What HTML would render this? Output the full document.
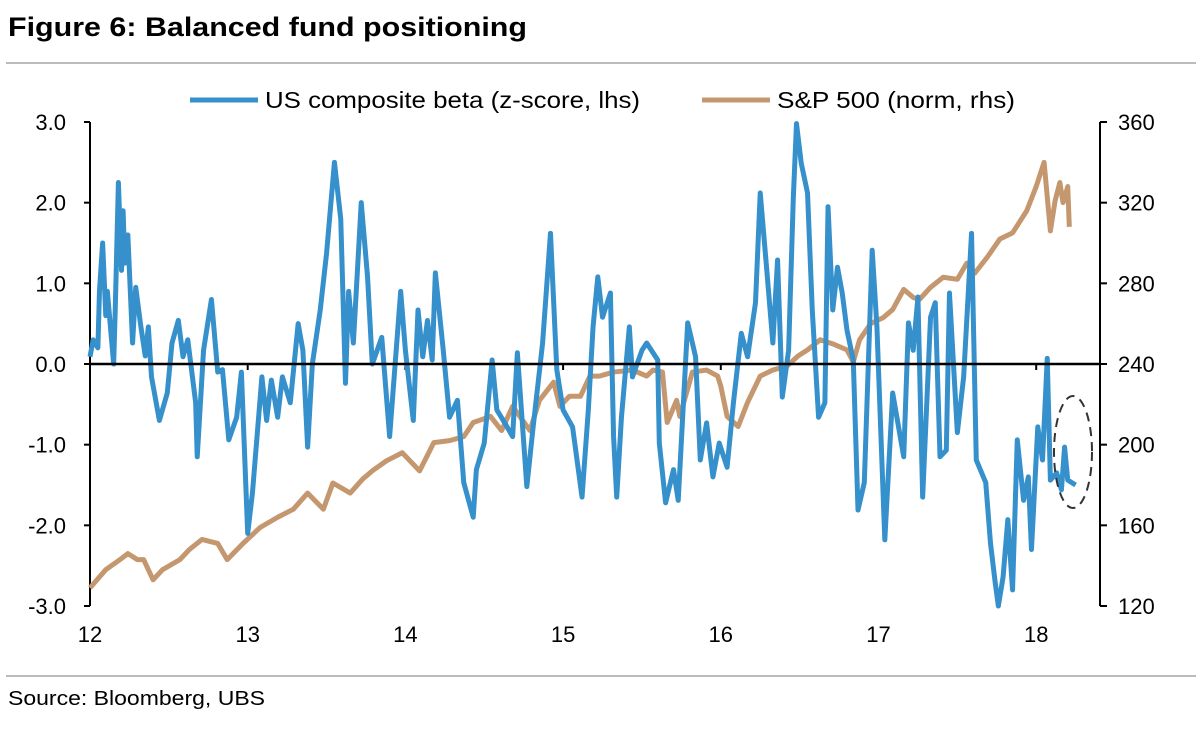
<!DOCTYPE html>
<html><head><meta charset="utf-8"><style>
body{margin:0;background:#fff;width:1200px;height:730px;overflow:hidden;font-family:"Liberation Sans",sans-serif}
</style></head><body>
<svg id="chart" width="1200" height="730" xmlns="http://www.w3.org/2000/svg" font-family="Liberation Sans, sans-serif">
<text x="8" y="36" font-size="27" font-weight="bold" fill="#000" textLength="519" lengthAdjust="spacingAndGlyphs">Figure 6: Balanced fund positioning</text>
<line x1="6" y1="63" x2="1196" y2="63" stroke="#bbb" stroke-width="2"/>
<g>
<line x1="190" y1="100" x2="258" y2="100" stroke="#3590CC" stroke-width="5"/>
<text x="265" y="108" font-size="23" textLength="375" lengthAdjust="spacingAndGlyphs">US composite beta (z-score, lhs)</text>
<line x1="702" y1="100" x2="770" y2="100" stroke="#C4976F" stroke-width="5"/>
<text x="777" y="108" font-size="23" textLength="238" lengthAdjust="spacingAndGlyphs">S&amp;P 500 (norm, rhs)</text>
</g>
<g id="axes"></g>
<g id="series"></g>
<ellipse cx="1073" cy="452" rx="19" ry="56" fill="none" stroke="#333" stroke-width="2" stroke-dasharray="9,6"/>
<line x1="6" y1="676" x2="1196" y2="676" stroke="#bbb" stroke-width="2"/>
<text x="8" y="705" font-size="20" textLength="257" lengthAdjust="spacingAndGlyphs">Source:  Bloomberg, UBS</text>
</svg>
<script>
const betaDates=[12.00,12.02,12.05,12.06,12.08,12.10,12.11,12.15,12.16,12.18,12.20,12.21,12.22,12.24,12.27,12.29,12.32,12.35,12.37,12.39,12.44,12.49,12.52,12.56,12.59,12.62,12.67,12.68,12.72,12.77,12.81,12.84,12.88,12.93,12.96,13.00,13.03,13.09,13.12,13.15,13.19,13.22,13.27,13.32,13.35,13.38,13.41,13.46,13.50,13.55,13.59,13.62,13.64,13.67,13.72,13.76,13.79,13.85,13.90,13.97,14.00,14.05,14.08,14.11,14.14,14.17,14.19,14.24,14.28,14.33,14.37,14.43,14.45,14.50,14.55,14.58,14.63,14.68,14.71,14.77,14.81,14.87,14.92,14.96,15.00,15.06,15.12,15.16,15.19,15.22,15.25,15.30,15.32,15.34,15.37,15.42,15.44,15.50,15.53,15.60,15.61,15.65,15.70,15.73,15.79,15.84,15.87,15.91,15.95,15.99,16.04,16.08,16.13,16.17,16.22,16.25,16.29,16.33,16.36,16.39,16.43,16.46,16.48,16.51,16.55,16.58,16.62,16.66,16.68,16.71,16.74,16.77,16.80,16.84,16.87,16.91,16.96,16.99,17.04,17.09,17.12,17.16,17.19,17.22,17.25,17.28,17.33,17.36,17.39,17.43,17.45,17.50,17.54,17.59,17.62,17.68,17.71,17.74,17.76,17.79,17.82,17.85,17.88,17.92,17.95,17.97,18.01,18.04,18.07,18.09,18.13,18.16,18.18,18.20,18.25];
const betaValues=[0.09,0.3,0.2,0.9,1.5,0.6,0.9,0.0,0.67,2.25,1.16,1.9,1.25,1.6,0.26,0.95,0.5,0.1,0.46,-0.16,-0.7,-0.36,0.26,0.54,0.09,0.3,-0.48,-1.15,0.17,0.8,-0.1,-0.07,-0.94,-0.66,-0.1,-2.1,-1.6,-0.16,-0.7,-0.2,-0.66,-0.16,-0.48,0.5,0.17,-1.03,0,0.67,1.37,2.5,1.8,-0.24,0.9,0.26,2.0,1.08,0,0.33,-0.9,0.9,0.17,-0.7,0.67,0.09,0.54,0.05,1.13,0.17,-0.66,-0.45,-1.47,-1.9,-1.31,-0.98,0.05,-0.57,-0.73,-0.9,0.14,-1.52,-0.78,0.26,1.62,-0.07,-0.57,-0.78,-1.65,-0.57,0.46,1.08,0.58,0.88,-0.9,-1.65,-0.66,0.46,-0.16,0.17,0.26,0.05,-0.98,-1.72,-1.31,-1.69,0.51,0.09,-1.19,-0.73,-1.4,-0.98,-1.28,-0.48,0.38,0.09,0.76,2.12,1.2,0.26,1.29,-0.41,0.17,2.07,2.98,2.49,2.12,0.67,-0.66,-0.48,1.95,0.67,1.2,0.88,0.42,0.05,-1.81,-1.47,1.41,0.46,-2.18,-0.36,-0.7,-1.15,0.51,0.17,0.83,-1.65,0.58,0.76,-1.15,-1.07,0.88,-0.85,-0.16,1.62,-1.19,-1.47,-2.22,-2.71,-3.0,-2.64,-1.93,-2.8,-0.94,-1.69,-1.4,-2.3,-0.78,-1.19,0.07,-1.44,-1.35,-1.56,-1.03,-1.44,-1.5];
const spDates=[12.00,12.10,12.19,12.24,12.30,12.34,12.40,12.46,12.57,12.63,12.71,12.81,12.87,12.97,13.08,13.19,13.29,13.38,13.48,13.54,13.65,13.73,13.79,13.88,13.98,14.09,14.18,14.28,14.37,14.43,14.54,14.61,14.68,14.79,14.85,14.94,14.98,15.04,15.11,15.17,15.23,15.32,15.44,15.53,15.57,15.63,15.66,15.72,15.74,15.82,15.91,15.98,16.00,16.04,16.11,16.17,16.25,16.33,16.42,16.49,16.55,16.63,16.71,16.80,16.84,16.88,16.95,17.03,17.09,17.16,17.22,17.26,17.33,17.41,17.50,17.56,17.61,17.69,17.77,17.85,17.94,18.00,18.05,18.09,18.12,18.15,18.17,18.20,18.21];
const spValues=[129,138,143,146,143,143,133,138,143,148,153,151,143,151,159,164,168,176,168,181,176,183,187,192,196,187,201,202,204,211,214,207,219,207,222,231,219,224,224,234,234,236,237,234,237,236,211,222,214,236,237,234,229,214,209,221,234,237,239,244,247,252,250,247,241,252,260,263,267,277,273,272,278,283,282,290,285,293,302,305,316,328,340,306,321,330,320,328,308];
const leftTicks=["3.0","2.0","1.0","0.0","-1.0","-2.0","-3.0"];
const leftTickValues=[3,2,1,0,-1,-2,-3];
const rightTickValues=[360,320,280,240,200,160,120];
const xTickLabels=["12","13","14","15","16","17","18"];
const xTickValues=[12,13,14,15,16,17,18];

const NS="http://www.w3.org/2000/svg";
const X0=90,X1=1100,Y0=122,Y1=606;
const xs=t=>X0+(t-12)*157.7;
const yL=v=>Y1-(v+3)/6*(Y1-Y0);
const yR=v=>Y1-(v-120)/240*(Y1-Y0);
function mk(tag,attrs,parent){const e=document.createElementNS(NS,tag);for(const k in attrs)e.setAttribute(k,attrs[k]);parent.appendChild(e);return e;}
const axes=document.getElementById('axes'),series=document.getElementById('series');
let e=mk('line',{x1:X0,y1:Y0,x2:X0,y2:Y1,stroke:'#000','stroke-width':2},axes);


e=mk('line',{x1:X1,y1:Y0,x2:X1,y2:Y1,stroke:'#000','stroke-width':2},axes);


leftTickValues.forEach((v,i)=>{
  const y=yL(v);
  let t=mk('line',{x1:X0-6,y1:y,x2:X0,y2:y,stroke:'#000','stroke-width':2},axes);
  
  
  let l=mk('text',{x:66,y:y+8,'font-size':22,'text-anchor':'end'},axes);l.textContent=leftTicks[i];
  
  
});
rightTickValues.forEach(v=>{
  const y=yR(v);
  let t=mk('line',{x1:X1,y1:y,x2:X1+7,y2:y,stroke:'#000','stroke-width':2},axes);
  
  
  let l=mk('text',{x:1118,y:y+8,'font-size':22},axes);l.textContent=String(v);
  
  
});
xTickValues.forEach((v,i)=>{
  const x=xs(v);
  let t=mk('line',{x1:x,y1:yL(0),x2:x,y2:yL(0)+6,stroke:'#000','stroke-width':2},axes);
  
  
  let l=mk('text',{x:x,y:642,'font-size':22,'text-anchor':'middle'},axes);l.textContent=xTickLabels[i];
  
  
});
let sp=mk('polyline',{points:spDates.map((t,i)=>xs(t)+','+yR(spValues[i])).join(' '),fill:'none',stroke:'#C4976F','stroke-width':5,'stroke-linejoin':'round'},series);


let bl=mk('polyline',{points:betaDates.map((t,i)=>xs(t)+','+yL(betaValues[i])).join(' '),fill:'none',stroke:'#3590CC','stroke-width':5,'stroke-linejoin':'round'},series);


let z=mk('line',{x1:X0,y1:yL(0),x2:X1,y2:yL(0),stroke:'#000','stroke-width':2.5},series);


</script>
</body></html>
